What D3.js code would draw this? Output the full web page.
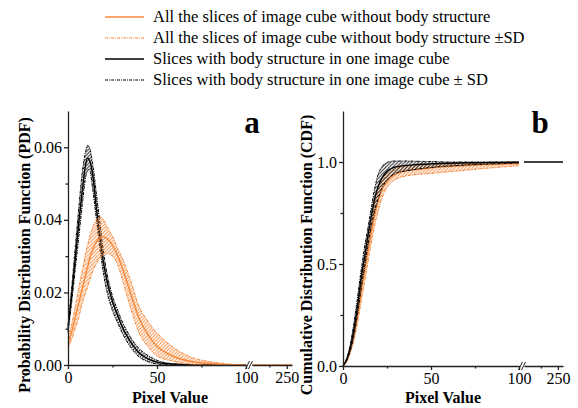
<!DOCTYPE html>
<html>
<head>
<meta charset="utf-8">
<script src="https://cdn.jsdelivr.net/npm/d3@7"></script>
<style>
  body { margin: 0; background: #fff; }
  text { font-family: "Liberation Serif", "Times New Roman", serif; }
</style>
</head>
<body>
<div id="chart"></div>
<script>
// pixel values sampled on the 0-100 part of the axis
var pixelX = [0, 2, 4, 6, 8, 10, 11, 12, 14, 16, 18, 20, 22, 25, 28, 30, 35, 40, 45, 50, 55, 60, 70, 80, 90, 100]

// panel a: PDF
var pdfOrangeMean  = [0.006, 0.009, 0.013, 0.017, 0.021, 0.025, 0.027, 0.029, 0.032, 0.034, 0.035, 0.0353, 0.0348, 0.033, 0.030, 0.0275, 0.020, 0.0128, 0.0083, 0.0052, 0.0034, 0.0022, 0.0009, 0.0004, 0.0001, 0]
var pdfOrangeUpper = [0.0075, 0.011, 0.016, 0.021, 0.026, 0.031, 0.033, 0.035, 0.038, 0.040, 0.0408, 0.040, 0.038, 0.0355, 0.032, 0.030, 0.0235, 0.016, 0.012, 0.0088, 0.0065, 0.0046, 0.002, 0.0009, 0.0003, 0]
var pdfOrangeLower = [0.0047, 0.007, 0.010, 0.013, 0.017, 0.020, 0.0215, 0.023, 0.026, 0.028, 0.0295, 0.0303, 0.0307, 0.030, 0.0275, 0.0245, 0.016, 0.0088, 0.005, 0.0025, 0.0015, 0.0009, 0.0002, 0, 0, 0]
var pdfBlackMean   = [0.010, 0.019, 0.029, 0.039, 0.048, 0.0555, 0.057, 0.0565, 0.052, 0.043, 0.035, 0.028, 0.023, 0.0175, 0.0135, 0.011, 0.0065, 0.0033, 0.0017, 0.0008, 0.0004, 0.0002, 0, 0, 0, 0]
var pdfBlackUpper  = [0.011, 0.021, 0.032, 0.043, 0.053, 0.059, 0.0605, 0.060, 0.055, 0.047, 0.039, 0.031, 0.025, 0.019, 0.015, 0.0125, 0.0078, 0.0045, 0.0026, 0.0013, 0.0006, 0.0003, 0.0001, 0, 0, 0]
var pdfBlackLower  = [0.009, 0.017, 0.026, 0.035, 0.044, 0.052, 0.0535, 0.054, 0.048, 0.040, 0.032, 0.025, 0.020, 0.015, 0.0115, 0.0093, 0.005, 0.0022, 0.0009, 0.0003, 0.0001, 0, 0, 0, 0, 0]

// panel b: CDF
var cdfOrangeMean  = [0, 0.024, 0.07, 0.14, 0.23, 0.34, 0.40, 0.45, 0.55, 0.65, 0.74, 0.81, 0.86, 0.905, 0.93, 0.94, 0.955, 0.962, 0.967, 0.971, 0.975, 0.978, 0.983, 0.987, 0.99, 0.993]
var cdfOrangeUpper = [0, 0.028, 0.08, 0.16, 0.26, 0.38, 0.44, 0.49, 0.60, 0.70, 0.79, 0.855, 0.90, 0.94, 0.96, 0.968, 0.978, 0.983, 0.986, 0.988, 0.99, 0.991, 0.993, 0.995, 0.996, 0.997]
var cdfOrangeLower = [0, 0.02, 0.06, 0.12, 0.20, 0.30, 0.35, 0.40, 0.50, 0.60, 0.69, 0.76, 0.82, 0.875, 0.905, 0.915, 0.93, 0.937, 0.941, 0.944, 0.948, 0.952, 0.96, 0.968, 0.975, 0.982]
var cdfBlackMean   = [0, 0.03, 0.085, 0.17, 0.28, 0.41, 0.47, 0.52, 0.63, 0.73, 0.82, 0.88, 0.92, 0.955, 0.97, 0.976, 0.982, 0.986, 0.989, 0.991, 0.993, 0.994, 0.996, 0.997, 0.998, 0.999]
var cdfBlackUpper  = [0, 0.035, 0.10, 0.20, 0.32, 0.45, 0.51, 0.57, 0.67, 0.77, 0.87, 0.94, 0.975, 0.997, 1.004, 1.005, 1.005, 1.004, 1.003, 1.002, 1.001, 1.0, 1.0, 1.0, 1.0, 1.0]
var cdfBlackLower  = [0, 0.025, 0.07, 0.14, 0.24, 0.36, 0.42, 0.47, 0.58, 0.68, 0.76, 0.82, 0.87, 0.91, 0.935, 0.945, 0.955, 0.962, 0.968, 0.973, 0.977, 0.98, 0.985, 0.989, 0.992, 0.995]

// the part after the axis break
var tailX = [150, 265]
var pdfTail = [0, 0]
var cdfTail = [1, 1]

var pdfTicks = [0, 0.02, 0.04, 0.06]
var pdfMinor = [0.01, 0.03, 0.05]
var cdfTicks = [0, 0.5, 1.0]
var cdfMinor = [0.25, 0.75]
var xTicks = [0, 50, 100]
var xMinor = [25, 75]
var xTicksTail = [250]
var xMinorTail = [200]

var legendLabels = [
  "All the slices of image cube without body structure",
  "All the slices of image cube without body structure \u00b1SD",
  "Slices with body structure in one image cube",
  "Slices with body structure in one image cube \u00b1 SD"
]

var orange = "#f7883a"

var svg = d3.select("#chart")
  .append("svg")
  .attr("width", 578)
  .attr("height", 408)

// hatch fills for the SD bands
var defs = svg.append("defs")
function hatch(id, color) {
  defs.append("pattern")
    .attr("id", id)
    .attr("patternUnits", "userSpaceOnUse")
    .attr("width", 3.5).attr("height", 3.5)
    .append("path")
    .attr("d", "M-1,1 l2,-2 M0,3.5 l3.5,-3.5 M2.5,4.5 l2,-2")
    .attr("stroke", color)
    .attr("stroke-width", 0.9)
}
hatch("hatchBlack", "#111")
hatch("hatchOrange", orange)

// legend
var legendStyles = [
  {color: orange, dash: null, w: 1.5},
  {color: orange, dash: "3,1,1,1", w: 1},
  {color: "#000", dash: null, w: 1.5},
  {color: "#000", dash: "3,1,1,1", w: 1}
]
legendLabels.forEach(function(lab, i) {
  var ly = 17 + i * 21
  svg.append("line")
    .attr("x1", 105).attr("x2", 144)
    .attr("y1", ly).attr("y2", ly)
    .attr("stroke", legendStyles[i].color)
    .attr("stroke-width", legendStyles[i].w)
    .attr("stroke-dasharray", legendStyles[i].dash)
  svg.append("text")
    .attr("x", 153).attr("y", ly + 5)
    .style("font-size", "16.5px")
    .text(lab)
})

function styleAxis(sel) {
  sel.attr("font-family", null).attr("font-size", null)
  sel.selectAll("path, line").attr("stroke", "#222").attr("stroke-width", 1.3)
  sel.selectAll("text").style("font-size", "16px").attr("fill", "#000")
}

function drawPanel(p) {
  var x1 = d3.scaleLinear().domain([0, 100]).range(p.xr1)
  var x2 = d3.scaleLinear().domain(tailX).range(p.xr2)
  var y = d3.scaleLinear().domain(p.ydom).range([p.y0, 111])
  var g = svg.append("g")

  var line = d3.line()
    .x(function(d, i) { return x1(pixelX[i]) })
    .y(function(d) { return y(d) })
    .curve(d3.curveMonotoneX)
  var band = function(up, lo) {
    return d3.area()
      .x(function(d, i) { return x1(pixelX[i]) })
      .y0(function(d, i) { return y(lo[i]) })
      .y1(function(d, i) { return y(up[i]) })
      .curve(d3.curveMonotoneX)(up)
  }
  var tailLine = d3.line()
    .x(function(d, i) { return x2(tailX[i]) })
    .y(function(d) { return y(d) })

  // series, drawn in the order given
  p.series.forEach(function(s) {
    g.append("path").attr("d", band(s.up, s.lo))
      .attr("fill", "url(#" + s.hatch + ")")
    ;[s.up, s.lo].forEach(function(arr) {
      g.append("path").attr("d", line(arr))
        .attr("fill", "none").attr("stroke", s.color)
        .attr("stroke-width", 1).attr("stroke-dasharray", "3,1,1,1")
    })
    g.append("path").attr("d", line(s.mean))
      .attr("fill", "none").attr("stroke", s.color).attr("stroke-width", 1.4)
  })
  g.append("path").attr("d", tailLine(p.tail))
    .attr("fill", "none").attr("stroke", p.tailColor).attr("stroke-width", 1.4)

  // y axis
  g.append("g")
    .attr("transform", "translate(" + p.xr1[0] + ",0)")
    .call(d3.axisLeft(y).tickValues(p.yTicks).tickFormat(d3.format(p.fmt)).tickSize(4).tickPadding(2).tickSizeOuter(0))
    .call(styleAxis)
  g.append("g")
    .attr("transform", "translate(" + p.xr1[0] + ",0)")
    .call(d3.axisLeft(y).tickValues(p.yMinor).tickFormat("").tickSize(2.5).tickSizeOuter(0))
    .call(styleAxis)
    .select(".domain").remove()

  // x axis, two segments with a break
  g.append("g")
    .attr("transform", "translate(0," + p.y0 + ")")
    .call(d3.axisBottom(x1).tickValues(xTicks).tickSize(4).tickSizeOuter(0))
    .call(styleAxis)
  g.append("g")
    .attr("transform", "translate(0," + p.y0 + ")")
    .call(d3.axisBottom(x1).tickValues(xMinor).tickFormat("").tickSize(2.5).tickSizeOuter(0))
    .call(styleAxis)
    .select(".domain").remove()
  g.append("g")
    .attr("transform", "translate(0," + p.y0 + ")")
    .call(d3.axisBottom(x2).tickValues(xTicksTail).tickSize(4).tickSizeOuter(0))
    .call(styleAxis)
  g.append("g")
    .attr("transform", "translate(0," + p.y0 + ")")
    .call(d3.axisBottom(x2).tickValues(xMinorTail).tickFormat("").tickSize(2.5).tickSizeOuter(0))
    .call(styleAxis)
    .select(".domain").remove()

  // break marks
  ;[p.xr1[1] + 1.5, p.xr1[1] + 4.5].forEach(function(bx) {
    g.append("line")
      .attr("x1", bx - 2).attr("y1", p.y0 + 4)
      .attr("x2", bx + 2).attr("y2", p.y0 - 4)
      .attr("stroke", "#222").attr("stroke-width", 1)
  })

  // titles
  g.append("text")
    .attr("x", (p.xr1[0] + p.xr2[1]) / 2 - 10).attr("y", 403)
    .attr("text-anchor", "middle")
    .style("font-size", "16px").style("font-weight", "bold")
    .text("Pixel Value")
  g.append("text")
    .attr("transform", "translate(" + p.labelX + ",255) rotate(-90)")
    .attr("text-anchor", "middle")
    .style("font-size", "16px").style("font-weight", "bold")
    .text(p.ylabel)
  g.append("text")
    .attr("x", p.letterX).attr("y", 133)
    .attr("text-anchor", "middle")
    .style("font-size", "31px").style("font-weight", "bold")
    .text(p.letter)
}

drawPanel({
  xr1: [68, 246], xr2: [252, 292], y0: 365, ydom: [0, 0.07],
  yTicks: pdfTicks, yMinor: pdfMinor, fmt: ".2f",
  ylabel: "Probability Distribution Function (PDF)", labelX: 30,
  letter: "a", letterX: 252,
  tail: pdfTail, tailColor: orange,
  series: [
    {mean: pdfBlackMean, up: pdfBlackUpper, lo: pdfBlackLower, color: "#000", hatch: "hatchBlack"},
    {mean: pdfOrangeMean, up: pdfOrangeUpper, lo: pdfOrangeLower, color: orange, hatch: "hatchOrange"}
  ]
})

drawPanel({
  xr1: [343, 519], xr2: [524, 563], y0: 366, ydom: [0, 1.25],
  yTicks: cdfTicks, yMinor: cdfMinor, fmt: ".1f",
  ylabel: "Cumulative Distribution Function (CDF)", labelX: 312,
  letter: "b", letterX: 540,
  tail: cdfTail, tailColor: "#000",
  series: [
    {mean: cdfOrangeMean, up: cdfOrangeUpper, lo: cdfOrangeLower, color: orange, hatch: "hatchOrange"},
    {mean: cdfBlackMean, up: cdfBlackUpper, lo: cdfBlackLower, color: "#000", hatch: "hatchBlack"}
  ]
})
</script>
</body>
</html>
